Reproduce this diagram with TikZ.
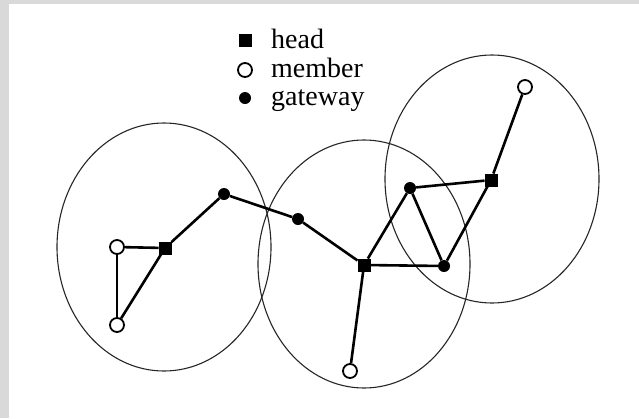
\documentclass[tikz,border=0pt]{standalone}
\usepackage{fontspec}
\setmainfont{Liberation Serif}
\usetikzlibrary{positioning}

\begin{document}
\begin{tikzpicture}[
    x=1pt, y=-1pt,
    headnode/.style={draw, fill=black, minimum size=12.5pt, inner sep=0pt},
    membernode/.style={circle, draw, line width=1.8pt, fill=white,
                       minimum size=14pt, inner sep=0pt},
    gatenode/.style={circle, fill=black, minimum size=12pt, inner sep=0pt},
    link/.style={line width=2.6pt},
    zone/.style={line width=1.1pt, black!85},
    keytext/.style={anchor=base west, inner sep=0pt,
                    font=\fontsize{28}{30}\selectfont}
]
    \useasboundingbox (0,0) rectangle (639,418);
    \fill[black!15] (0,0) rectangle (9,418);
    \fill[black!15] (0,0) rectangle (639,4);

    % legend
    \node[headnode] (keyhead) at (245,40) {};
    \node[membernode] (keymember) at (245,70) {};
    \node[gatenode] (keygate) at (245,98) {};
    \node[keytext] (headtext) at (271,48) {head};
    \node[keytext] (membertext) at (271,77) {member};
    \node[keytext] (gatetext) at (271,105) {gateway};

    % cluster ranges
    \draw[zone] (164,247) ellipse [x radius=107pt, y radius=124pt];
    \draw[zone] (364,264) ellipse [x radius=106pt, y radius=124pt];
    \draw[zone] (492,179) ellipse [x radius=107pt, y radius=124pt];

    % nodes
    \node[membernode] (leftmember) at (117,247) {};
    \node[membernode] (lowmember) at (117,325) {};
    \node[headnode] (lefthead) at (165,248) {};
    \node[gatenode] (leftgate) at (224,194) {};
    \node[gatenode] (midgate) at (298,219) {};
    \node[headnode] (midhead) at (364,265) {};
    \node[membernode] (midmember) at (350,371) {};
    \node[gatenode] (uppergate) at (410,188) {};
    \node[gatenode] (lowergate) at (444,266) {};
    \node[headnode] (righthead) at (491,180) {};
    \node[membernode] (rightmember) at (525,87) {};

    % links
    \draw[link] (leftmember) -- (lefthead);
    \draw[link] (leftmember) -- (lowmember);
    \draw[link] (lowmember) -- (lefthead);
    \draw[link] (lefthead) -- (leftgate);
    \draw[link] (leftgate) -- (midgate);
    \draw[link] (midgate) -- (midhead);
    \draw[link] (midhead) -- (midmember);
    \draw[link] (midhead) -- (uppergate);
    \draw[link] (midhead) -- (lowergate);
    \draw[link] (uppergate) -- (lowergate);
    \draw[link] (uppergate) -- (righthead);
    \draw[link] (lowergate) -- (righthead);
    \draw[link] (righthead) -- (rightmember);
\end{tikzpicture}
\end{document}
